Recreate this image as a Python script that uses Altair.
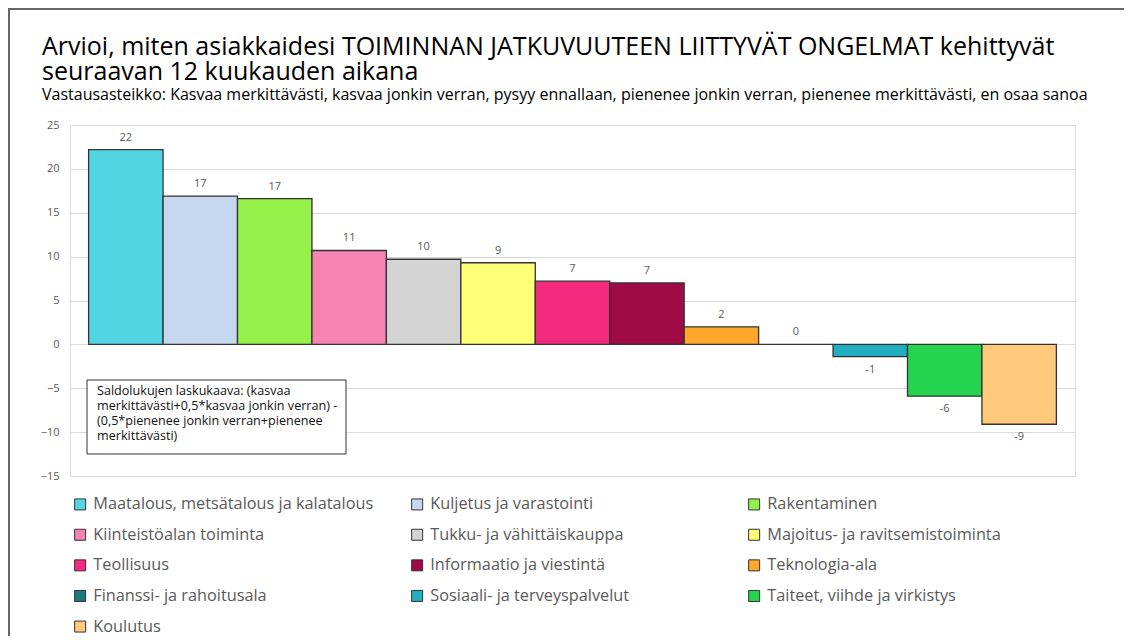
import altair as alt
import pandas as pd

categories = [
    "Maatalous, metsätalous ja kalatalous",
    "Kuljetus ja varastointi",
    "Rakentaminen",
    "Kiinteistöalan toiminta",
    "Tukku- ja vähittäiskauppa",
    "Majoitus- ja ravitsemistoiminta",
    "Teollisuus",
    "Informaatio ja viestintä",
    "Teknologia-ala",
    "Finanssi- ja rahoitusala",
    "Sosiaali- ja terveyspalvelut",
    "Taiteet, viihde ja virkistys",
    "Koulutus",
]
values = [22.2, 16.9, 16.6, 10.7, 9.7, 9.3, 7.2, 7.0, 2.0, 0.0, -1.4, -5.9, -9.1]
value_labels = ["22", "17", "17", "11", "10", "9", "7", "7", "2", "0", "-1", "-6", "-9"]
colors = [
    "#53D6E3", "#C5D8F0", "#95F04A", "#F783B3", "#D4D4D4", "#FFFF78",
    "#F42A7E", "#A00B45", "#FFA82C", "#1A7A80", "#1FAFC0", "#25D44E", "#FFC97C",
]
y_ticks = [-15, -10, -5, 0, 5, 10, 15, 20, 25]

title_line1 = "Arvioi, miten asiakkaidesi TOIMINNAN JATKUVUUTEEN LIITTYVÄT ONGELMAT kehittyvät"
title_line2 = "seuraavan 12 kuukauden aikana"
subtitle = ("Vastausasteikko: Kasvaa merkittävästi, kasvaa jonkin verran, pysyy ennallaan, "
            "pienenee jonkin verran, pienenee merkittävästi, en osaa sanoa")
note_lines = [
    "Saldolukujen laskukaava: (kasvaa",
    "merkittävästi+0,5*kasvaa jonkin verran) -",
    "(0,5*pienenee jonkin verran+pienenee",
    "merkittävästi)",
]

df = pd.DataFrame({"cat": categories, "val": values, "lab": value_labels})

W, H = 1005, 351
PAD_L, PAD_T, PAD_R, PAD_B = 62, 117, 49, 160
FONT = "Open Sans"

x_enc = alt.X("cat:N", sort=categories, axis=None,
              scale=alt.Scale(paddingInner=0, paddingOuter=0.25))
y_enc = alt.Y("val:Q",
              scale=alt.Scale(domain=[-15, 25], nice=False, zero=False),
              axis=alt.Axis(values=y_ticks, title=None, grid=True, domain=False,
                            ticks=False, labelPadding=11, labelFontSize=11,
                            labelFont=FONT, labelColor="#595959",
                            gridColor="#d9d9d9", gridWidth=1))

base = alt.Chart(df)

bars = base.mark_bar(stroke="#333333", strokeWidth=1.3).encode(
    x=x_enc,
    y=y_enc,
    color=alt.Color("cat:N", sort=categories,
                    scale=alt.Scale(domain=categories, range=colors),
                    legend=alt.Legend(title=None, orient="none", legendX=2, legendY=371,
                                      direction="horizontal", columns=3, gridAlign="all",
                                      columnPadding=35, rowPadding=13.6, padding=0,
                                      symbolType="square", symbolSize=121,
                                      symbolStrokeColor="#333333", symbolStrokeWidth=1,
                                      labelFont=FONT, labelFontSize=16.3, labelColor="#595959",
                                      labelLimit=500, labelOffset=5)),
)

pos_labels = base.transform_filter("datum.val >= 0").mark_text(
    dy=-12, fontSize=11, font=FONT, color="#595959"
).encode(x=x_enc, y=y_enc, text="lab:N")

neg_labels = base.transform_filter("datum.val < 0").mark_text(
    dy=13, fontSize=11, font=FONT, color="#595959"
).encode(x=x_enc, y=y_enc, text="lab:N")

one = pd.DataFrame({"t": ["\n".join(note_lines)]})
note_box = alt.Chart(one).mark_rect(fill="white", stroke="#333333", strokeWidth=1).encode(
    x=alt.value(17), x2=alt.value(276), y=alt.value(255), y2=alt.value(329)
)
note_text = alt.Chart(one).mark_text(
    align="left", baseline="top", lineBreak="\n", lineHeight=15,
    fontSize=12.6, font=FONT, color="#111111"
).encode(x=alt.value(27), y=alt.value(260), text="t:N")

title1 = alt.Chart(pd.DataFrame({"t": [title_line1]})).mark_text(
    align="left", baseline="alphabetic", fontSize=25, font=FONT, color="black"
).encode(x=alt.value(-28), y=alt.value(-70), text="t:N")
title2 = alt.Chart(pd.DataFrame({"t": [title_line2]})).mark_text(
    align="left", baseline="alphabetic", fontSize=25, font=FONT, color="black"
).encode(x=alt.value(-28), y=alt.value(-45), text="t:N")
sub_text = alt.Chart(pd.DataFrame({"t": [subtitle]})).mark_text(
    align="left", baseline="alphabetic", fontSize=16, font=FONT, color="black"
).encode(x=alt.value(-28), y=alt.value(-25), text="t:N")

frame_top = alt.Chart(one).mark_rule(color="#666666", strokeWidth=2).encode(
    x=alt.value(-PAD_L), x2=alt.value(W + PAD_R), y=alt.value(-PAD_T + 1)
)
frame_left = alt.Chart(one).mark_rule(color="#666666", strokeWidth=2).encode(
    x=alt.value(-PAD_L + 1), y=alt.value(-PAD_T + 1), y2=alt.value(H + PAD_B)
)

chart = alt.layer(
    bars, pos_labels, neg_labels, note_box, note_text, title1, title2, sub_text, frame_top, frame_left
).properties(
    width=W, height=H,
    autosize="none",
    padding={"left": PAD_L, "top": PAD_T, "right": PAD_R, "bottom": PAD_B},
).configure_view(stroke="transparent", strokeWidth=0).configure(background="white")

chart.save("out.html", embed_options={"renderer": "svg", "actions": False})
